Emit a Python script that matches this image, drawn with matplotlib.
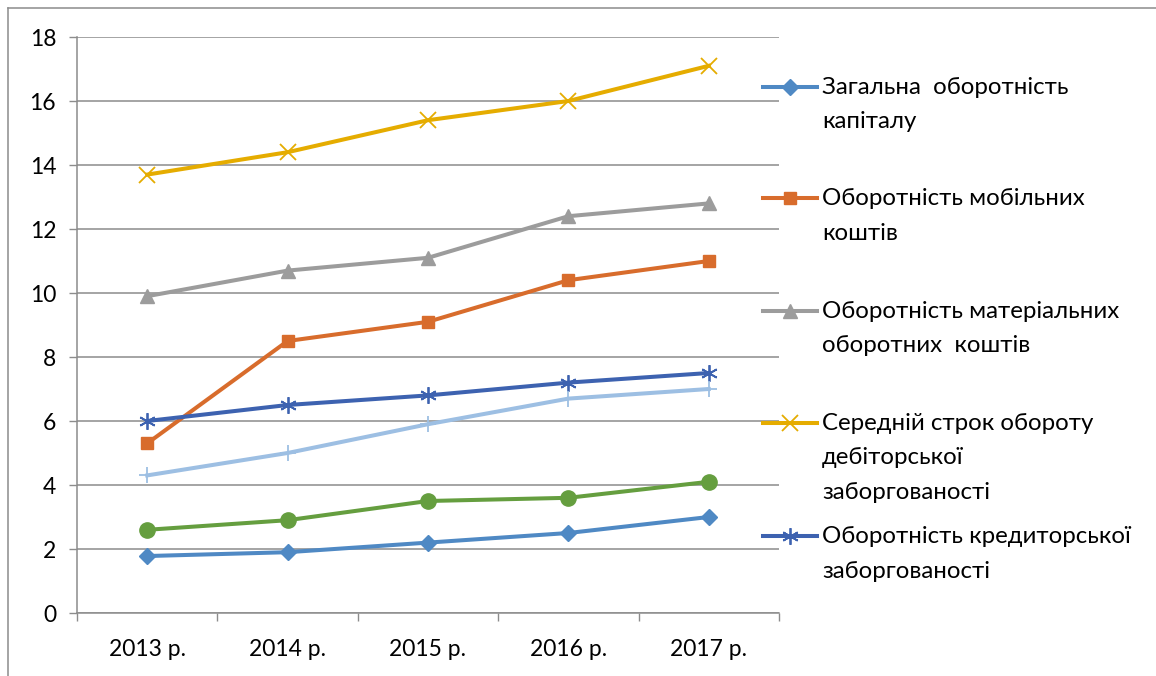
import matplotlib
matplotlib.use('Agg')
import matplotlib.pyplot as plt
from matplotlib.lines import Line2D

plt.rcParams['font.family'] = ['Lato', 'DejaVu Sans']

years = ['2013 р.', '2014 р.', '2015 р.', '2016 р.', '2017 р.']

zagalna = [1.78, 1.9, 2.2, 2.5, 3.0]
mobilni = [5.3, 8.5, 9.1, 10.4, 11.0]
materialni = [9.9, 10.7, 11.1, 12.4, 12.8]
debitor = [13.7, 14.4, 15.4, 16.0, 17.1]
kredytor = [6.0, 6.5, 6.8, 7.2, 7.5]
series6 = [4.3, 5.0, 5.9, 6.7, 7.0]
series7 = [2.6, 2.9, 3.5, 3.6, 4.1]

names = [['Загальна  оборотність', 'капіталу'],
         ['Оборотність мобільних', 'коштів'],
         ['Оборотність матеріальних', 'оборотних  коштів'],
         ['Середній строк обороту', 'дебіторської', 'заборгованості'],
         ['Оборотність кредиторської', 'заборгованості']]

W, H = 1156, 676
fig = plt.figure(figsize=(W / 100, H / 100), dpi=100)
ax = fig.add_axes([77 / W, 1 - 613 / H, (779 - 77) / W, (613 - 37) / H])

x = range(len(years))
gc = '#8c8c8c'
lw = 2.9

# values, color, marker, markersize, marker edge width
styles = [
    (zagalna, '#4f89c4', 'D', 8, 1),
    (mobilni, '#d86c2c', 's', 9, 1),
    (materialni, '#9c9c9c', '^', 10, 1),
    (debitor, '#e5ac00', 'x', 11, 1.3),
    (kredytor, '#3d62b0', (6, 2, 0), 12, 1.3),
    (series6, '#9dbfe3', '+', 12, 1.3),
    (series7, '#659e3f', 'o', 11, 1),
]

# draw the unlabelled ones first, like the original
order = [6, 5, 4, 3, 2, 1, 0]
for i in order:
    vals, c, m, ms, mew = styles[i]
    ax.plot(x, vals, color=c, lw=lw, marker=m, ms=ms, mew=mew,
            mec=c, mfc=c, zorder=3 + i, clip_on=False)

ax.set_xlim(-0.5, 4.5)
ax.set_ylim(0, 18)
ax.set_yticks(range(0, 19, 2))
ax.set_xticks(list(x))
ax.set_xticklabels(years)
ax.set_xticks([i - 0.5 for i in range(6)], minor=True)
ax.tick_params(axis='x', which='major', length=0, pad=19, labelsize=16.5)
ax.tick_params(axis='x', which='minor', length=6, width=1, color=gc, direction='out')
ax.tick_params(axis='y', length=6, width=1, color=gc, pad=9, labelsize=16.5)
ax.grid(axis='y', color=gc, lw=1.1)
ax.set_axisbelow(True)
for s in ['top', 'right']:
    ax.spines[s].set_visible(False)
for s in ['left', 'bottom']:
    ax.spines[s].set_color(gc)
    ax.spines[s].set_linewidth(1.1)

# legend drawn by hand so the handle sits on the first text line
leg_y = [87, 198, 311, 423, 536]
step = 34.5
for k in range(5):
    vals, c, m, ms, mew = styles[k]
    yy = 1 - leg_y[k] / H
    fig.add_artist(Line2D([763 / W, 817 / W], [yy, yy], color=c, lw=lw,
                          transform=fig.transFigure))
    fig.add_artist(Line2D([790 / W], [yy], color=c, marker=m, ms=ms, mew=mew,
                          mec=c, mfc=c, transform=fig.transFigure))
    for j, line in enumerate(names[k]):
        fig.text(822 / W, 1 - (leg_y[k] + 7 + j * step) / H, line,
                 fontsize=17.3, va='baseline', ha='left')

# outer chart border (only top and left edges are visible)
fig.add_artist(Line2D([8 / W, 1], [1 - 8 / H, 1 - 8 / H], color=gc, lw=1.1,
                      transform=fig.transFigure))
fig.add_artist(Line2D([8 / W, 8 / W], [0, 1 - 8 / H], color=gc, lw=1.1,
                      transform=fig.transFigure))

fig.savefig('out.png', dpi=100)
